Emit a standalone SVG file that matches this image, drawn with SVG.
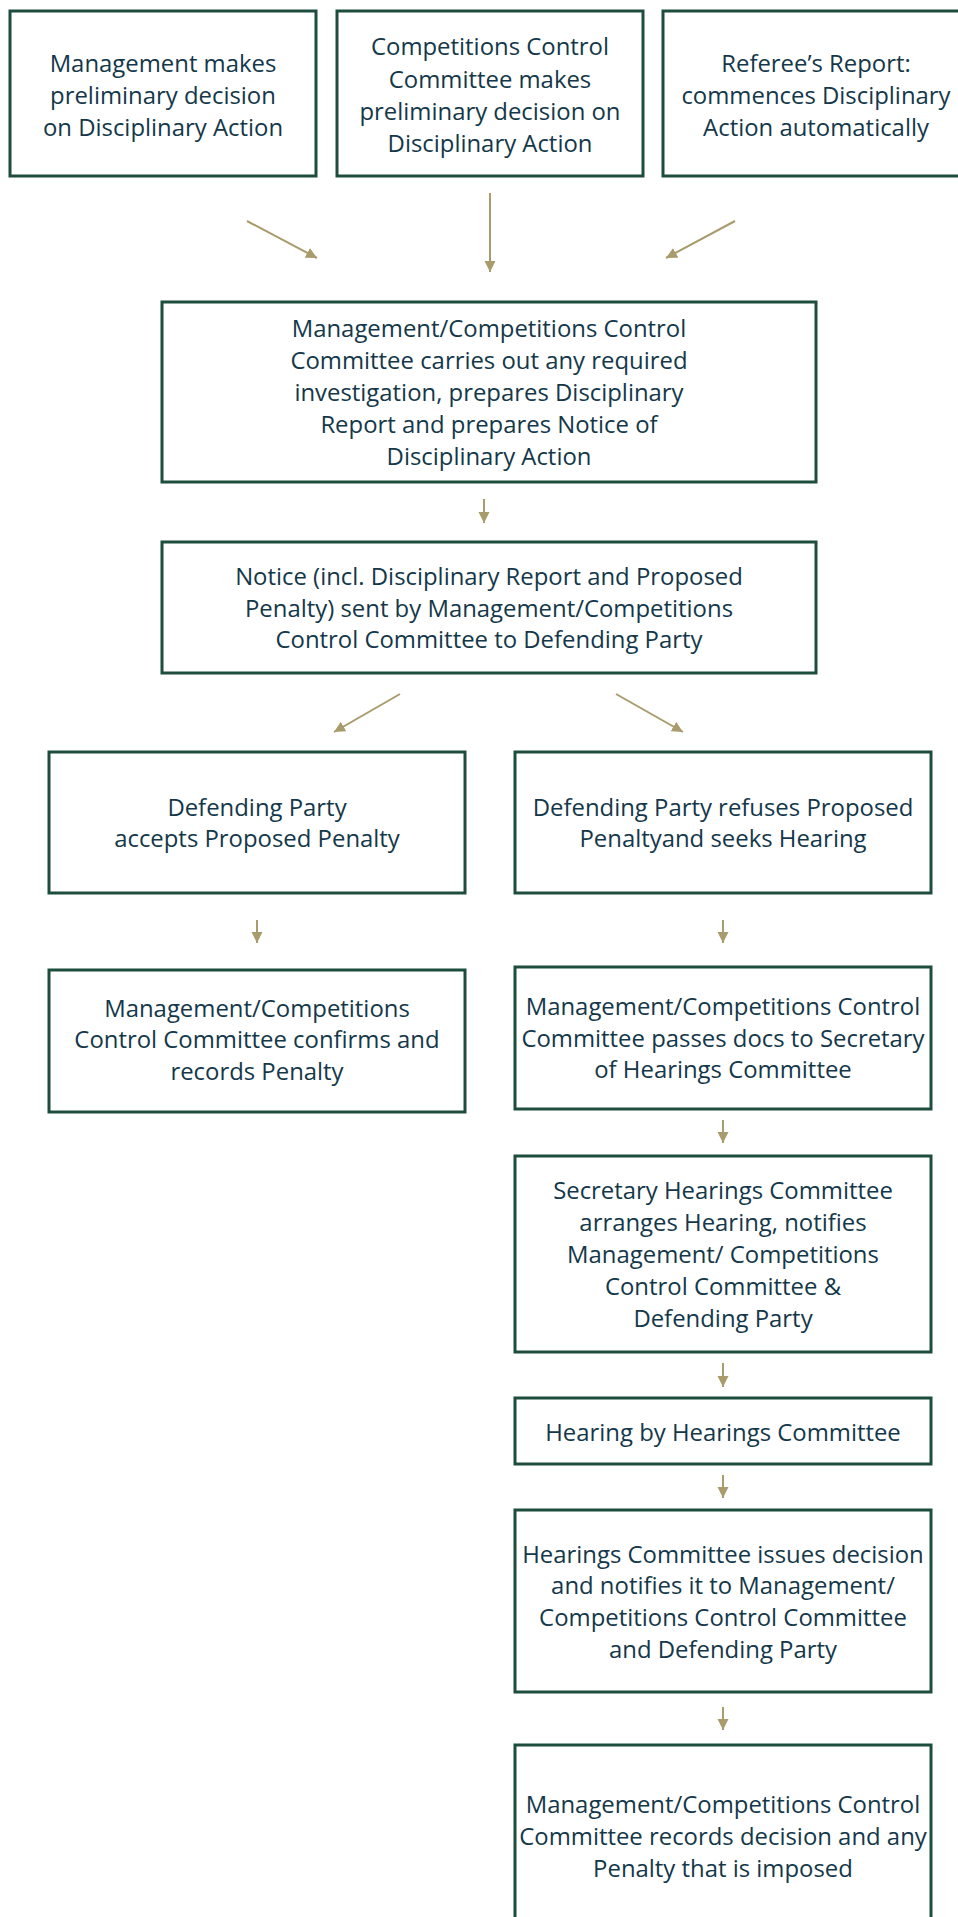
<svg xmlns="http://www.w3.org/2000/svg" width="958" height="1917" viewBox="0 0 958 1917">
<style>
.box{fill:#ffffff;stroke:#1d4d3b;stroke-width:3}
.t{font-family:"Open Sans","Noto Sans",sans-serif;font-size:23.9px;fill:#14384a;text-anchor:middle}
.c{stroke:#a99b6b;stroke-width:2;fill:none;marker-end:url(#ah)}
</style>
<defs>
<marker id="ah" markerUnits="userSpaceOnUse" markerWidth="12" markerHeight="12" refX="11" refY="5.5" orient="auto">
<path d="M0,0 L11,5.5 L0,11 z" fill="#a99b6b"/>
</marker>
</defs>
<rect width="958" height="1917" fill="#ffffff"/>
<g id="connectors">
<line class="c" x1="247" y1="221" x2="317" y2="258"/>
<line class="c" x1="490" y1="193" x2="490" y2="272"/>
<line class="c" x1="735" y1="221" x2="666" y2="258"/>
<line class="c" x1="484" y1="499" x2="484" y2="523"/>
<line class="c" x1="400" y1="694" x2="334" y2="732"/>
<line class="c" x1="616" y1="694" x2="683" y2="732"/>
<line class="c" x1="257" y1="920" x2="257" y2="943"/>
<line class="c" x1="723" y1="920" x2="723" y2="943"/>
<line class="c" x1="723" y1="1120" x2="723" y2="1143"/>
<line class="c" x1="723" y1="1363" x2="723" y2="1387"/>
<line class="c" x1="723" y1="1475" x2="723" y2="1498"/>
<line class="c" x1="723" y1="1707" x2="723" y2="1730"/>
</g>
<g id="n1">
<rect class="box" x="10" y="11" width="306" height="165"/>
<text class="t" x="163" y="72">Management makes</text>
<text class="t" x="163" y="104">preliminary decision</text>
<text class="t" x="163" y="136">on Disciplinary Action</text>
</g>
<g id="n2">
<rect class="box" x="337" y="11" width="306" height="165"/>
<text class="t" x="490" y="55">Competitions Control</text>
<text class="t" x="490" y="88">Committee makes</text>
<text class="t" x="490" y="120">preliminary decision on</text>
<text class="t" x="490" y="152">Disciplinary Action</text>
</g>
<g id="n3">
<rect class="box" x="663" y="11" width="306" height="165"/>
<text class="t" x="816" y="72">Referee’s Report:</text>
<text class="t" x="816" y="104">commences Disciplinary</text>
<text class="t" x="816" y="136">Action automatically</text>
</g>
<g id="n4">
<rect class="box" x="162" y="302" width="654" height="180"/>
<text class="t" x="489" y="337">Management/Competitions Control</text>
<text class="t" x="489" y="369">Committee carries out any required</text>
<text class="t" x="489" y="401">investigation, prepares Disciplinary</text>
<text class="t" x="489" y="433">Report and prepares Notice of</text>
<text class="t" x="489" y="465">Disciplinary Action</text>
</g>
<g id="n5">
<rect class="box" x="162" y="542" width="654" height="131"/>
<text class="t" x="489" y="585">Notice (incl. Disciplinary Report and Proposed</text>
<text class="t" x="489" y="617">Penalty) sent by Management/Competitions</text>
<text class="t" x="489" y="648">Control Committee to Defending Party</text>
</g>
<g id="n6">
<rect class="box" x="49" y="752" width="416" height="141"/>
<text class="t" x="257" y="816">Defending Party</text>
<text class="t" x="257" y="847">accepts Proposed Penalty</text>
</g>
<g id="n7">
<rect class="box" x="515" y="752" width="416" height="141"/>
<text class="t" x="723" y="816">Defending Party refuses Proposed</text>
<text class="t" x="723" y="847">Penaltyand seeks Hearing</text>
</g>
<g id="n8">
<rect class="box" x="49" y="970" width="416" height="142"/>
<text class="t" x="257" y="1017">Management/Competitions</text>
<text class="t" x="257" y="1048">Control Committee confirms and</text>
<text class="t" x="257" y="1080">records Penalty</text>
</g>
<g id="n9">
<rect class="box" x="515" y="967" width="416" height="142"/>
<text class="t" x="723" y="1015">Management/Competitions Control</text>
<text class="t" x="723" y="1047">Committee passes docs to Secretary</text>
<text class="t" x="723" y="1078">of Hearings Committee</text>
</g>
<g id="n10">
<rect class="box" x="515" y="1156" width="416" height="196"/>
<text class="t" x="723" y="1199">Secretary Hearings Committee</text>
<text class="t" x="723" y="1231">arranges Hearing, notifies</text>
<text class="t" x="723" y="1263">Management/ Competitions</text>
<text class="t" x="723" y="1295">Control Committee &amp;</text>
<text class="t" x="723" y="1327">Defending Party</text>
</g>
<g id="n11">
<rect class="box" x="515" y="1398" width="416" height="66"/>
<text class="t" x="723" y="1441">Hearing by Hearings Committee</text>
</g>
<g id="n12">
<rect class="box" x="515" y="1510" width="416" height="182"/>
<text class="t" x="723" y="1563">Hearings Committee issues decision</text>
<text class="t" x="723" y="1594">and notifies it to Management/</text>
<text class="t" x="723" y="1626">Competitions Control Committee</text>
<text class="t" x="723" y="1658">and Defending Party</text>
</g>
<g id="n13">
<rect class="box" x="515" y="1745" width="416" height="200"/>
<text class="t" x="723" y="1813">Management/Competitions Control</text>
<text class="t" x="723" y="1845">Committee records decision and any</text>
<text class="t" x="723" y="1877">Penalty that is imposed</text>
</g>
</svg>
